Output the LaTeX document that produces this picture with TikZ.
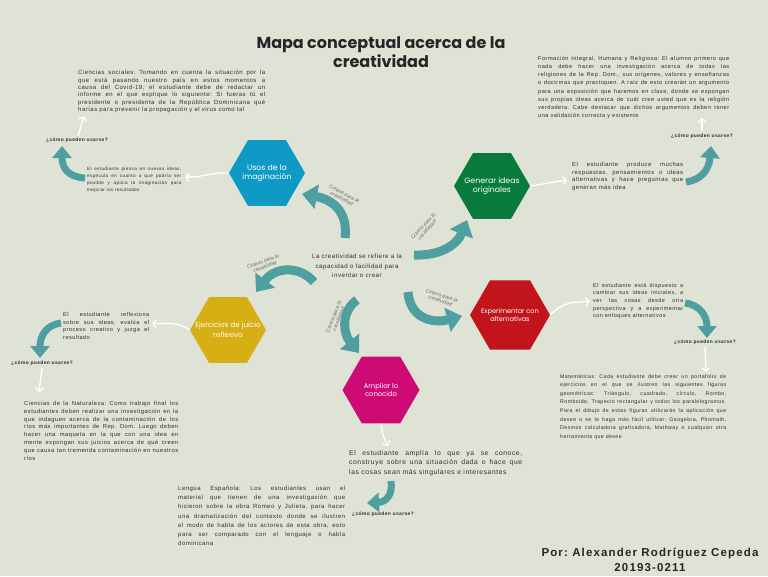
\documentclass[tikz,border=0pt]{standalone}
\usepackage{fontspec}
\setmainfont{Liberation Sans}[LetterSpace=8]
\newfontfamily\critfont{Liberation Sans}
\newfontfamily\titlefont{Poppins}
\newfontfamily\hexfont{Poppins}
\usetikzlibrary{shapes.geometric,arrows.meta}
\definecolor{bg}{HTML}{DFE3D6}
\definecolor{tealc}{HTML}{4F9EA0}
\definecolor{txt}{HTML}{2E2E2E}
\definecolor{hblue}{HTML}{0E9AC5}
\definecolor{hgreen}{HTML}{077A3C}
\definecolor{hred}{HTML}{C2151B}
\definecolor{hyellow}{HTML}{D6AF14}
\definecolor{hmag}{HTML}{CE0A74}
\definecolor{lblgray}{HTML}{6A6A6A}
\frenchspacing
\begin{document}
\begin{tikzpicture}[x=1pt,y=-1pt,
  hexa/.style={regular polygon, regular polygon sides=6, minimum size=#1, inner sep=0pt},
  hexlbl/.style={inner sep=0pt, text=white, align=center, font=\hexfont\fontsize{7.8}{9.5}\selectfont},
  para/.style={anchor=north west, inner sep=0pt, align=justify, text=txt},
  ctext/.style={inner sep=0pt, align=center, text=txt},
  quest/.style={inner sep=0pt, text=txt, font=\bfseries\fontsize{4.9}{5.5}\selectfont},
  crit/.style={inner sep=0pt, align=center, text=lblgray, font=\critfont\itshape\fontsize{5.1}{5.4}\selectfont},
  bigarrow/.style={draw=tealc, line width=9pt, -{Triangle[width=24pt,length=15pt]}},
  smallarrow/.style={draw=tealc, line width=7pt, -{Triangle[width=19pt,length=12pt]}},
  wline/.style={draw=white, line width=1.3pt, -{Straight Barb[length=3.5pt,width=8pt]}}
]
\path[use as bounding box, fill=bg] (0,0) rectangle (768,576);

% title
\node[ctext, font=\titlefont\bfseries\fontsize{16}{19}\selectfont, text=black!85] (title) at (381,52)
  {Mapa conceptual acerca de la\\creatividad};

% center
\node[ctext, font=\fontsize{6.2}{9.6}\selectfont] (center) at (357,266)
  {La creatividad se refiere a la\\capacidad o facilidad para\\inventar o crear};

% hexagons
\node[hexa=76pt, fill=hblue] (usos) at (267,173) {};
\node[hexlbl] (usosT) at (usos) {Usos de la\\imaginación};
\node[hexa=76pt, fill=hgreen] (gen) at (492,186) {};
\node[hexlbl] (genT) at (gen) {Generar ideas\\originales};
\node[hexa=80pt, fill=hred] (exp) at (510,315) {};
\node[hexlbl, font=\hexfont\fontsize{6.6}{8}\selectfont] (expT) at (exp) {Experimentar con\\alternativas};
\node[hexa=76pt, fill=hyellow] (eje) at (228,330) {};
\node[hexlbl, font=\hexfont\fontsize{7.2}{9.5}\selectfont] (ejeT) at (eje) {Ejercicios de juicio\\reflexivo};
\node[hexa=77pt, fill=hmag] (amp) at (381,390) {};
\node[hexlbl, font=\hexfont\fontsize{6.8}{8.5}\selectfont] (ampT) at (amp) {Ampliar lo\\conocido};

% text blocks
\node[para, text width=187pt, font=\fontsize{6.0}{7.4}\selectfont] (tA) at (78,70)
{Ciencias sociales: Tomando en cuenta la situación por la\linebreak
que está pasando nuestro país en estos momentos a\linebreak
causa del Covid-19, el estudiante debe de redactar un\linebreak
informe en el que explique lo siguiente: Si fueras tú el\linebreak
presidente o presidenta de la República Dominicana qué\linebreak
harías para prevenir la propagación y el virus como tal};

\node[para, text width=191pt, font=\fontsize{5.65}{8.2}\selectfont] (tB) at (538,56)
{Formación Integral, Humana y Religiosa: El alumno primero que\linebreak
nada debe hacer una investigación acerca de todas las\linebreak
religiones de la Rep. Dom., sus orígenes, valores y enseñanzas\linebreak
o doctrinas que practiquen. A raíz de esto crearán un argumento\linebreak
para una exposición que haremos en clase, donde se expongan\linebreak
sus propias ideas acerca de cuál cree usted que es la religión\linebreak
verdadera. Cabe destacar que dichos argumentos deben tener\linebreak
una validación correcta y existente};

\node[para, text width=94pt, font=\fontsize{4.6}{7}\selectfont] (tC) at (87,167)
{El estudiante piensa en nuevas ideas,\linebreak
especula en cuanto a qué podría ser\linebreak
posible y aplica la imaginación para\linebreak
mejorar los resultados};

\node[para, text width=111pt, font=\fontsize{5.9}{7.7}\selectfont] (tD) at (572,162)
{El estudiante produce muchas\linebreak
respuestas, pensamientos o ideas\linebreak
alternativas y hace preguntas que\linebreak
generan más idea};

\node[para, text width=90pt, font=\fontsize{5.5}{7.6}\selectfont] (tE) at (593,283)
{El estudiante está dispuesto a\linebreak
cambiar sus ideas iniciales, a\linebreak
ver las cosas desde otra\linebreak
perspectiva y a experimentar\linebreak
con enfoques alternativos};

\node[para, text width=86pt, font=\fontsize{5.6}{7.8}\selectfont] (tF) at (63,312)
{El estudiante reflexiona\linebreak
sobre sus ideas, evalúa el\linebreak
proceso creativo y juzga el\linebreak
resultado};

\node[para, text width=154pt, font=\fontsize{5.8}{7.8}\selectfont] (tG) at (24,401)
{Ciencias de la Naturaleza: Como trabajo final los\linebreak
estudiantes deben realizar una investigación en la\linebreak
que indaguen acerca de la contaminación de los\linebreak
ríos más importantes de Rep. Dom. Luego deben\linebreak
hacer una maqueta en la que con una idea en\linebreak
mente expongan sus juicios acerca de qué creen\linebreak
que causa tan tremenda contaminación en nuestros\linebreak
ríos};

\node[para, text width=166pt, font=\fontsize{5.25}{8.6}\selectfont] (tH) at (560,374)
{Matemáticas: Cada estudiante debe crear un portafolio de\linebreak
ejercicios en el que se ilustren las siguientes figuras\linebreak
geométricas: Triángulo, cuadrado, círculo, Rombo,\linebreak
Romboide, Trapecio rectangular y todos los paralelogramos.\linebreak
Para el dibujo de estas figuras utilizarán la aplicación que\linebreak
desee o se le haga más fácil utilizar: Geogebra, Phomath,\linebreak
Desmos calculadora graficadora, Mathway o cualquier otra\linebreak
herramienta que desee};

\node[para, text width=173pt, font=\fontsize{6.8}{9.6}\selectfont] (tI) at (349,450)
{El estudiante amplía lo que ya se conoce,\linebreak
construye sobre una situación dada o hace que\linebreak
las cosas sean más singulares e interesantes};

\node[para, text width=167pt, font=\fontsize{6.0}{9.2}\selectfont] (tJ) at (178,486)
{Lengua Española: Los estudiantes usan el\linebreak
material que tienen de una investigación que\linebreak
hicieron sobre la obra Romeo y Julieta, para hacer\linebreak
una dramatización del contexto donde se ilustren\linebreak
el modo de habla de los actores de esta obra, esto\linebreak
para ser comparado con el lenguaje o habla\linebreak
dominicana};

% questions
\node[quest] (q1) at (77,140) {¿cómo pueden usarse?};
\node[quest] (q2) at (702,136) {¿cómo pueden usarse?};
\node[quest] (q3) at (705,342) {¿cómo pueden usarse?};
\node[quest] (q4) at (42,363) {¿cómo pueden usarse?};
\node[quest] (q5) at (383,514) {¿cómo pueden usarse?};

% author
\node[ctext, font=\bfseries\fontsize{11.5}{15.5}\selectfont\addfontfeatures{LetterSpace=10}, text=black!85] (author) at (650,560)
  {Por: Alexander Rodríguez Cepeda\\20193-0211};

% criterio labels
\node[crit, rotate=-28] (c1) at (343,196) {Criterio para la\\creatividad};
\node[crit, rotate=48] (c2) at (425,228) {Criterio para la\\creatividad};
\node[crit, rotate=20] (c3) at (264,264) {Criterio para la\\creatividad};
\node[crit, rotate=68] (c4) at (336,318) {Criterio para la\\creatividad};
\node[crit, rotate=-18] (c5) at (441,298) {Criterio para la\\creatividad};

% big teal arrows from center
\coordinate (a1s) at (345,238); \coordinate (a1e) at (302,194);
\coordinate (a2s) at (414,255); \coordinate (a2e) at (467,220);
\coordinate (a3s) at (314,282); \coordinate (a3e) at (256,292);
\coordinate (a4s) at (357,300); \coordinate (a4e) at (359,353);
\coordinate (a5s) at (408,292); \coordinate (a5e) at (462,316);
\draw[bigarrow] (a1s) .. controls (348,214) and (335,200) .. (a1e);
\draw[bigarrow] (a2s) .. controls (440,256) and (457,245) .. (a2e);
\draw[bigarrow] (a3s) .. controls (300,266) and (276,266) .. (a3e);
\draw[bigarrow] (a4s) .. controls (342,310) and (342,332) .. (a4e);
\draw[bigarrow] (a5s) .. controls (410,318) and (432,324) .. (a5e);

% side teal arrows
\coordinate (s1s) at (85,178); \coordinate (s1e) at (62,146);
\coordinate (s2s) at (686,182); \coordinate (s2e) at (711,146);
\coordinate (s3s) at (685,303); \coordinate (s3e) at (707,338);
\coordinate (s4s) at (61,323); \coordinate (s4e) at (40,358);
\coordinate (s5s) at (391,481); \coordinate (s5e) at (367,503);
\draw[smallarrow] (s1s) .. controls (68,177) and (62,168) .. (s1e);
\draw[smallarrow] (s2s) .. controls (701,180) and (709,170) .. (s2e);
\draw[smallarrow] (s3s) .. controls (700,305) and (707,316) .. (s3e);
\draw[smallarrow] (s4s) .. controls (46,325) and (40,336) .. (s4e);
\draw[smallarrow] (s5s) .. controls (393,495) and (386,502) .. (s5e);

% white connectors
\coordinate (w1e) at (185,177);
\coordinate (w2s) at (78,136); \coordinate (w2e) at (84,116);
\coordinate (w3e) at (567,180);
\coordinate (w4s) at (702,131); \coordinate (w4e) at (702,118);
\coordinate (w5e) at (590,301);
\coordinate (w6s) at (705,347); \coordinate (w6e) at (706,372);
\coordinate (w7e) at (152,323);
\coordinate (w8s) at (42,368); \coordinate (w8e) at (39,392);
\coordinate (w9e) at (388,446);
\draw[wline] (usos.west) .. controls (210,172) and (200,178) .. (w1e);
\draw[wline] (w2s) -- (w2e);
\draw[wline] (gen.east) .. controls (545,184) and (553,182) .. (w3e);
\draw[wline] (w4s) -- (w4e);
\draw[wline] (exp.east) .. controls (565,300) and (575,303) .. (w5e);
\draw[wline] (w6s) -- (w6e);
\draw[wline] (eje.west) .. controls (175,320) and (165,325) .. (w7e);
\draw[wline] (w8s) -- (w8e);
\draw[wline] (amp.south) .. controls (382,435) and (385,440) .. (w9e);
\end{tikzpicture}
\end{document}
